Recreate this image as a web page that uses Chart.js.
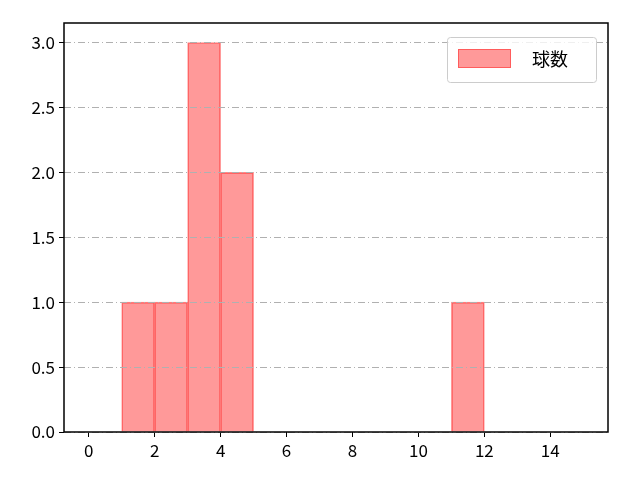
<!DOCTYPE html>
<html>
<head>
<meta charset="utf-8">
<script src="https://cdn.jsdelivr.net/npm/chart.js@4/dist/chart.umd.min.js"></script>
<style>
  html, body { margin: 0; padding: 0; background: #fff; }
  #wrap { width: 640px; height: 480px; }
</style>
</head>
<body>
<div id="wrap"><canvas id="chart" width="640" height="480"></canvas></div>
<script>
// histogram bins (left edges) and counts
const binEdges = [0, 1, 2, 3, 4, 5, 6, 7, 8, 9, 10, 11, 12, 13, 14, 15]
const counts = [0, 1, 1, 3, 2, 0, 0, 0, 0, 0, 0, 1, 0, 0, 0]
const xTicks = [0, 2, 4, 6, 8, 10, 12, 14]
const yTicks = [0, 0.5, 1, 1.5, 2, 2.5, 3]
const seriesLabel = "球数"

const FONT = "'Noto Sans CJK JP', 'DejaVu Sans', sans-serif"

// bars sit at the middle of each bin, zero bins left empty
const barData = counts.map((c, i) => ({x: (binEdges[i] + binEdges[i + 1]) / 2, y: c === 0 ? null : c}))

// frame and legend drawn by hand, matplotlib style
const framePlugin = {
	id: "frame",
	afterDraw: (chart) => {
		const {ctx, chartArea} = chart
		ctx.save()
		ctx.strokeStyle = "#000"
		ctx.lineWidth = 1.5
		ctx.strokeRect(chartArea.left, chartArea.top, chartArea.right - chartArea.left, chartArea.bottom - chartArea.top)

		// legend box
		const bx = 447, by = 37, bw = 149, bh = 45
		ctx.fillStyle = "rgba(255,255,255,0.8)"
		ctx.strokeStyle = "#cccccc"
		ctx.lineWidth = 1
		ctx.beginPath()
		ctx.roundRect(bx + 0.5, by + 0.5, bw, bh, 3)
		ctx.fill()
		ctx.stroke()
		ctx.fillStyle = "rgba(255,0,0,0.4)"
		ctx.fillRect(458, 49, 53, 19)
		ctx.strokeStyle = "rgba(255,0,0,0.4)"
		ctx.strokeRect(458.5, 49.5, 52, 18)
		ctx.fillStyle = "#000"
		ctx.font = "18px " + FONT
		ctx.textBaseline = "middle"
		ctx.fillText(seriesLabel, 532, 59)
		ctx.restore()
	}
}

new Chart(document.getElementById("chart"), {
	type: "bar",
	data: {
		datasets: [{
			label: seriesLabel,
			data: barData,
			backgroundColor: "rgba(255,0,0,0.4)",
			borderColor: "rgba(255,40,40,0.55)",
			borderWidth: 1,
			barPercentage: 1,
			categoryPercentage: 1,
			grouped: false
		}]
	},
	options: {
		responsive: false,
		animation: false,
		layout: {padding: {left: 0, right: 32, top: 23, bottom: 0}},
		plugins: {legend: {display: false}, tooltip: {enabled: false}},
		scales: {
			x: {
				type: "linear",
				offset: false,
				min: -0.75,
				max: 15.75,
				afterBuildTicks: (axis) => { axis.ticks = xTicks.map(v => ({value: v})) },
				afterFit: (axis) => { axis.height = 48 },
				grid: {offset: false, drawOnChartArea: false, tickLength: 5, tickColor: "#000", tickWidth: 1},
				border: {display: false},
				ticks: {color: "#000", font: {family: FONT, size: 17}, padding: 3, maxRotation: 0}
			},
			y: {
				min: 0,
				max: 3.15,
				afterBuildTicks: (axis) => { axis.ticks = yTicks.map(v => ({value: v})) },
				afterFit: (axis) => { axis.width = 64 },
				grid: {
					color: "#b0b0b0",
					lineWidth: 1,
					tickLength: 5,
					tickColor: "#000",
					tickBorderDash: [],
					z: 1
				},
				border: {display: false, dash: [7, 3, 1, 3]},
				ticks: {color: "#000", font: {family: FONT, size: 17}, padding: 4, callback: (v) => v.toFixed(1)}
			}
		}
	},
	plugins: [framePlugin]
})
</script>
</body>
</html>
